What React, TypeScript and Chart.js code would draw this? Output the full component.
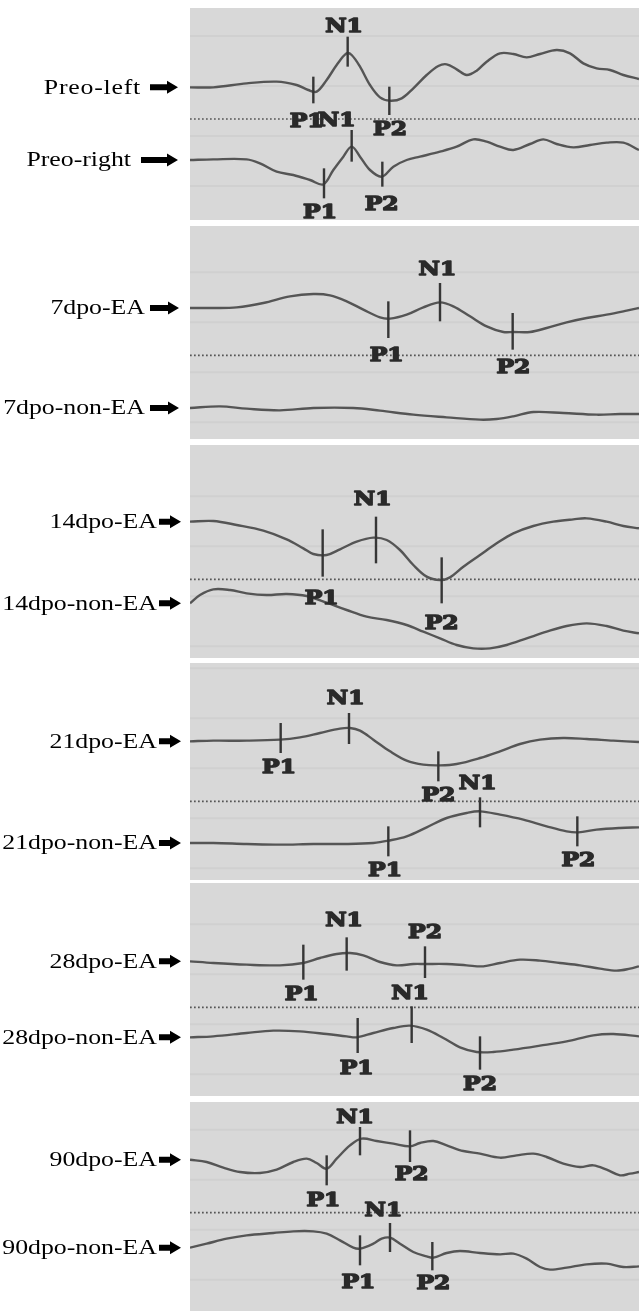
import React, { useEffect, useRef } from 'react';
import { Chart, registerables } from 'chart.js';

Chart.register(...registerables);

// x: time (sample units across the sweep), y: amplitude relative to the dotted reference line
const timeRange = [0, 1347];

const preoLeft = [[0,95],[70,95],[170,107],[260,112],[320,102],[355,87],[380,82],[410,117],[440,162],[470,197],[485,192],[510,157],[540,102],[570,65],[600,55],[635,62],[670,92],[710,132],[745,159],[770,164],[800,149],[830,132],[860,145],[890,172],[930,197],[970,195],[1010,185],[1050,195],[1100,207],[1140,197],[1180,167],[1220,152],[1260,147],[1300,132],[1347,120]];
const preoRight = [[0,-123],[70,-121],[170,-121],[210,-133],[260,-158],[310,-168],[360,-183],[400,-196],[430,-153],[460,-113],[485,-83],[510,-113],[540,-153],[575,-173],[610,-143],[650,-123],[690,-113],[750,-98],[800,-83],[850,-61],[890,-68],[930,-83],[970,-93],[1020,-75],[1060,-61],[1100,-75],[1150,-85],[1200,-78],[1250,-71],[1300,-71],[1347,-93]];
const ea7 = [[0,142],[70,142],[140,144],[220,157],[300,177],[370,184],[420,180],[470,162],[520,137],[570,114],[600,110],[650,122],[700,144],[750,159],[790,147],[840,117],[890,87],[940,70],[970,70],[1020,70],[1070,82],[1130,99],[1190,112],[1250,122],[1310,134],[1347,142]];
const non7 = [[0,-158],[90,-153],[170,-160],[270,-165],[370,-158],[490,-158],[570,-166],[670,-178],[770,-186],[870,-193],[920,-191],[970,-183],[1030,-170],[1120,-173],[1220,-178],[1290,-176],[1347,-176]];
const ea14 = [[0,173],[70,175],[140,163],[220,146],[290,120],[340,93],[370,76],[410,73],[450,90],[500,113],[550,125],[590,118],[630,88],[670,43],[710,8],[750,-2],[780,6],[820,38],[870,73],[920,108],[970,138],[1030,160],[1090,173],[1150,180],[1190,183],[1250,173],[1300,160],[1347,153]];
const non14 = [[0,-72],[30,-47],[70,-30],[120,-32],[170,-42],[230,-47],[290,-44],[350,-50],[410,-70],[470,-92],[530,-112],[590,-122],[650,-137],[700,-157],[750,-177],[800,-197],[850,-207],[900,-207],[950,-197],[1010,-177],[1070,-157],[1130,-140],[1190,-132],[1250,-140],[1300,-154],[1347,-162]];
const ea21 = [[0,180],[70,182],[170,182],[270,185],[330,192],[390,205],[450,218],[480,220],[510,212],[550,185],[600,150],[650,122],[700,110],[750,108],[800,112],[870,130],[930,150],[990,172],[1050,185],[1120,190],[1190,187],[1270,182],[1347,178]];
const non21 = [[0,-125],[70,-125],[170,-128],[270,-130],[370,-128],[470,-128],[550,-125],[595,-118],[650,-105],[710,-78],[770,-50],[830,-35],[870,-30],[930,-40],[1000,-55],[1070,-75],[1130,-90],[1165,-93],[1220,-85],[1290,-80],[1347,-78]];
const ea28 = [[0,138],[70,133],[170,128],[270,126],[340,133],[390,148],[440,160],[480,163],[520,156],[570,136],[620,126],[670,130],[705,130],[770,130],[830,126],[880,123],[930,133],[990,143],[1050,140],[1110,133],[1170,126],[1230,116],[1280,110],[1320,116],[1347,123]];
const non28 = [[0,-90],[70,-87],[170,-77],[250,-70],[330,-72],[410,-80],[470,-87],[500,-90],[550,-77],[610,-62],[660,-55],[710,-67],[760,-92],[810,-120],[860,-134],[910,-134],[970,-127],[1050,-115],[1130,-102],[1210,-84],[1270,-80],[1347,-87]];
const ea90 = [[0,159],[50,152],[100,135],[150,122],[210,119],[260,129],[310,152],[350,162],[380,149],[410,132],[440,162],[480,202],[515,222],[560,215],[610,207],[660,199],[690,209],[730,215],[770,202],[820,185],[870,177],[930,165],[980,172],[1030,177],[1070,167],[1120,147],[1170,137],[1210,142],[1250,129],[1290,112],[1320,117],[1347,122]];
const non90 = [[0,-105],[50,-93],[110,-78],[170,-68],[250,-61],[310,-56],[370,-56],[410,-63],[450,-83],[490,-105],[510,-108],[550,-93],[575,-78],[600,-75],[630,-93],[670,-118],[710,-131],[730,-135],[770,-121],[810,-115],[870,-121],[930,-125],[970,-123],[1010,-138],[1050,-163],[1080,-171],[1130,-165],[1190,-155],[1250,-153],[1300,-163],[1347,-161]];

// peaks: [label, time, tick low, tick high, label time, label amplitude]
const preoLeftPeaks = [['P1',370,47,127,350,-10],['N1',473,157,247,462,275],['P2',598,12,97,600,-35]];
const preoRightPeaks = [['P1',402,-238,-148,390,-283],['N1',485,-128,-33,440,-8],['P2',577,-203,-128,575,-260]];
const ea7Peaks = [['P1',595,52,162,590,-3],['N1',750,102,217,742,255],['P2',968,17,127,970,-38]];
const non7Peaks = [];
const ea14Peaks = [['P1',398,8,150,395,-60],['N1',558,48,188,548,238],['P2',755,-72,66,755,-134]];
const non14Peaks = [];
const ea21Peaks = [['P1',272,145,235,267,100],['N1',477,172,265,467,305],['P2',745,60,150,745,15]];
const non21Peaks = [['P1',595,-165,-75,585,-210],['N1',870,-78,12,863,52],['P2',1162,-135,-45,1165,-180]];
const ea28Peaks = [['P1',340,83,188,335,36],['N1',470,110,210,462,258],['P2',705,88,183,705,221]];
const non28Peaks = [['P1',503,-137,-32,500,-187],['N1',665,-107,3,660,40],['P2',870,-187,-87,870,-234]];
const ea90Peaks = [['P1',410,82,172,400,35],['N1',510,172,257,495,282],['P2',660,152,247,665,111]];
const non90Peaks = [['P1',510,-158,-68,505,-213],['N1',600,-118,-31,580,5],['P2',727,-173,-88,730,-215]];

const traceNames = ['Preo-left','Preo-right','7dpo-EA','7dpo-non-EA','14dpo-EA','14dpo-non-EA','21dpo-EA','21dpo-non-EA','28dpo-EA','28dpo-non-EA','90dpo-EA','90dpo-non-EA'];
const traceData = [preoLeft, preoRight, ea7, non7, ea14, non14, ea21, non21, ea28, non28, ea90, non90];
const tracePeaks = [preoLeftPeaks, preoRightPeaks, ea7Peaks, non7Peaks, ea14Peaks, non14Peaks, ea21Peaks, non21Peaks, ea28Peaks, non28Peaks, ea90Peaks, non90Peaks];
const yRanges = [[-303,333],[-251,388],[-236,403],[-236,415],[-266,373],[-295,332]];

// layout (pixels)
const panelLayout = [
  { top: 8, height: 212 },
  { top: 226, height: 213 },
  { top: 445, height: 213 },
  { top: 663, height: 217 },
  { top: 883, height: 213 },
  { top: 1102, height: 209 },
];
const labelLayout = [
  { textRight: 141, a0: 150, a1: 178, spacing: 0.6 },
  { textRight: 131, a0: 141, a1: 178, spacing: 0 },
  { textRight: 145, a0: 150, a1: 179, spacing: 0 },
  { textRight: 145, a0: 150, a1: 179, spacing: 0 },
  { textRight: 157, a0: 159, a1: 181, spacing: 0 },
  { textRight: 157, a0: 159, a1: 181, spacing: 0 },
  { textRight: 157, a0: 159, a1: 181, spacing: 0 },
  { textRight: 157, a0: 159, a1: 181, spacing: 0 },
  { textRight: 157, a0: 159, a1: 181, spacing: 0 },
  { textRight: 157, a0: 159, a1: 181, spacing: 0 },
  { textRight: 157, a0: 159, a1: 181, spacing: 0 },
  { textRight: 157, a0: 159, a1: 181, spacing: 0 },
];

const PANEL_BG = '#d8d8d8';
const TRACE_COLOR = '#555555';
const TICK_COLOR = '#363636';
const PEAK_TEXT = '#2a2a2a';

function drawArrow(ctx, x0, x1, y) {
  const head = 11, sh = 3, hh = 6.5;
  ctx.beginPath();
  ctx.moveTo(x0, y - sh);
  ctx.lineTo(x1 - head, y - sh);
  ctx.lineTo(x1 - head, y - hh);
  ctx.lineTo(x1, y);
  ctx.lineTo(x1 - head, y + hh);
  ctx.lineTo(x1 - head, y + sh);
  ctx.lineTo(x0, y + sh);
  ctx.closePath();
  ctx.fill();
}

function Panel({ index }) {
  const ref = useRef(null);
  const lay = panelLayout[index];
  useEffect(() => {
    const idx = [index * 2, index * 2 + 1];
    const panelPlugin = {
      id: 'panelDeco',
      beforeDraw(chart) {
        const { ctx, chartArea: a, scales } = chart;
        const ys = scales.y;
        ctx.save();
        ctx.fillStyle = PANEL_BG;
        ctx.fillRect(a.left, a.top, a.right - a.left, a.bottom - a.top);
        // faint paper lines
        ctx.strokeStyle = 'rgba(0,0,0,0.035)';
        ctx.lineWidth = 2;
        const zeroY = ys.getPixelForValue(0);
        for (let k = -5; k <= 5; k++) {
          const y = zeroY + 17 + 50 * k;
          if (y > a.top + 4 && y < a.bottom - 4) {
            ctx.beginPath();
            ctx.moveTo(a.left, y);
            ctx.lineTo(a.right, y);
            ctx.stroke();
          }
        }
        // dotted reference line
        ctx.strokeStyle = '#555';
        ctx.lineWidth = 1.7;
        ctx.setLineDash([1.7, 2.3]);
        ctx.beginPath();
        ctx.moveTo(a.left, zeroY);
        ctx.lineTo(a.right, zeroY);
        ctx.stroke();
        ctx.setLineDash([]);
        // left labels with arrows
        ctx.fillStyle = '#000';
        ctx.font = '20px "Liberation Serif"';
        ctx.textAlign = 'right';
        ctx.textBaseline = 'middle';
        idx.forEach((ti) => {
          const y = ys.getPixelForValue(traceData[ti][0][1]);
          const L = labelLayout[ti];
          ctx.save();
          (ctx as any).letterSpacing = L.spacing + 'px';
          ctx.translate(L.textRight, y + 1);
          ctx.scale(1.29, 1);
          ctx.fillText(traceNames[ti], 0, 0);
          ctx.restore();
          drawArrow(ctx, L.a0, L.a1, y);
        });
        ctx.restore();
      },
      afterDatasetsDraw(chart) {
        const { ctx, chartArea: a, scales } = chart;
        const xs = scales.x, ys = scales.y;
        ctx.save();
        ctx.beginPath();
        ctx.rect(a.left, a.top, a.right - a.left, a.bottom - a.top);
        ctx.clip();
        idx.forEach((ti) => {
          tracePeaks[ti].forEach((p) => {
            const [label, t, lo, hi, lt, ly] = p;
            const x = xs.getPixelForValue(t);
            ctx.strokeStyle = TICK_COLOR;
            ctx.lineWidth = 2.4;
            ctx.beginPath();
            ctx.moveTo(x, ys.getPixelForValue(lo));
            ctx.lineTo(x, ys.getPixelForValue(hi));
            ctx.stroke();
            ctx.save();
            ctx.fillStyle = PEAK_TEXT;
            ctx.strokeStyle = PEAK_TEXT;
            ctx.lineWidth = 1.4;
            ctx.lineJoin = 'round';
            ctx.font = 'bold 18px "DejaVu Serif"';
            ctx.textAlign = 'center';
            ctx.textBaseline = 'middle';
            ctx.translate(xs.getPixelForValue(lt), ys.getPixelForValue(ly));
            ctx.scale(1.3, 1);
            ctx.fillText(label, 0, 0);
            ctx.strokeText(label, 0, 0);
            ctx.restore();
          });
        });
        ctx.restore();
      },
    };
    const chart = new Chart(ref.current, {
      type: 'line',
      data: {
        datasets: idx.map((ti) => ({
          label: traceNames[ti],
          data: traceData[ti].map(([x, y]) => ({ x, y })),
          borderColor: TRACE_COLOR,
          borderWidth: 2.4,
          pointRadius: 0,
          tension: 0.35,
          fill: false,
        })),
      },
      options: {
        animation: false,
        responsive: false,
        maintainAspectRatio: false,
        devicePixelRatio: 1,
        layout: { padding: { left: 190, right: 0, top: 0, bottom: 0 } },
        scales: {
          x: { type: 'linear', min: timeRange[0], max: timeRange[1], display: false },
          y: { type: 'linear', min: yRanges[index][0], max: yRanges[index][1], display: false },
        },
        plugins: { legend: { display: false }, tooltip: { enabled: false } },
      },
      plugins: [panelPlugin],
    });
    return () => chart.destroy();
  }, [index]);
  return (
    <canvas
      ref={ref}
      width={639}
      height={lay.height}
      style={{ position: 'absolute', left: 0, top: lay.top, width: 639, height: lay.height, display: 'block' }}
    />
  );
}

export default function App() {
  return (
    <div style={{ position: 'absolute', left: 0, top: 0, width: 639, height: 1311, background: '#fff', overflow: 'hidden' }}>
      {panelLayout.map((_, i) => (
        <Panel key={i} index={i} />
      ))}
    </div>
  );
}
